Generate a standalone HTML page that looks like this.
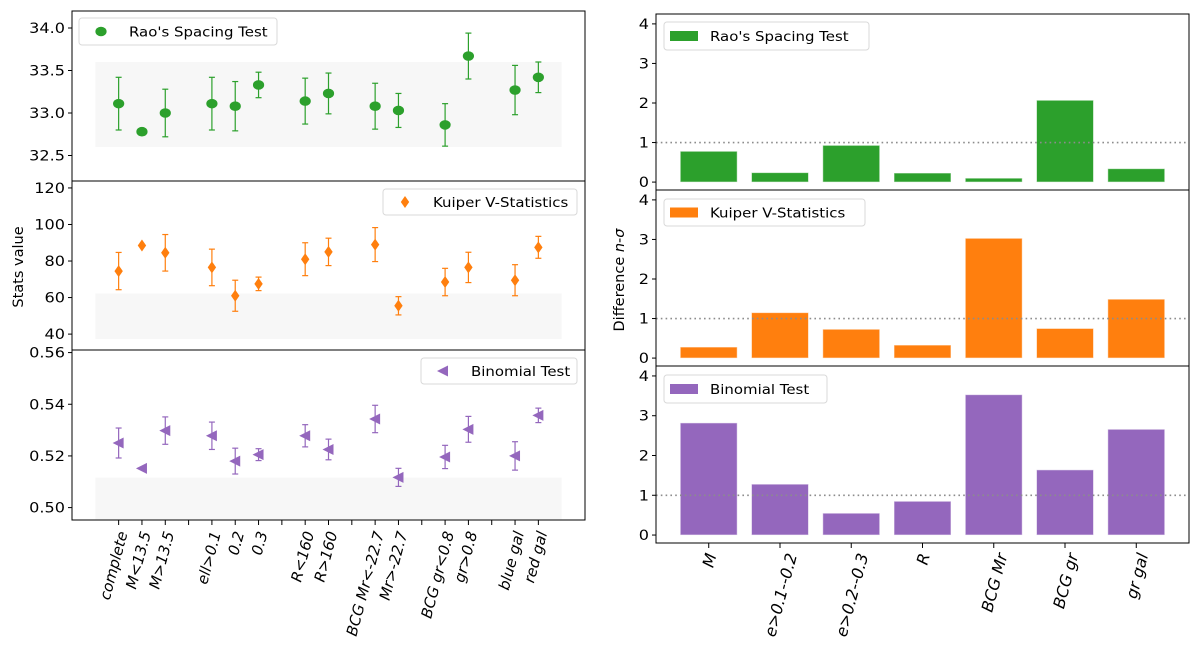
<!DOCTYPE html>
<html><head><meta charset="utf-8"><style>
html,body{margin:0;padding:0;background:#fff;}
svg{display:block;font-family:"DejaVu Sans","Liberation Sans",sans-serif;}
</style></head><body>
<svg id="fig" width="1200" height="652" viewBox="0 0 1200 652" xmlns="http://www.w3.org/2000/svg"></svg>
<script>
// ---- data ----
const slotLabels = ["complete","M<13.5","M>13.5","","ell>0.1","0.2","0.3","","R<160","R>160","","BCG Mr<-22.7","Mr>-22.7","","BCG gr<0.8","gr>0.8","","blue gal","red gal"];
const pointSlots = [0,1,2,4,5,6,8,9,11,12,14,15,17,18];
const raoValues = [33.11,32.78,33.00,33.11,33.08,33.33,33.14,33.23,33.08,33.03,32.86,33.67,33.27,33.42];
const raoErrors = [0.31,0,0.28,0.31,0.29,0.15,0.27,0.24,0.27,0.20,0.25,0.27,0.29,0.18];
const kuiperValues = [74.5,88.5,84.5,76.5,61,67.5,81,85,89,55.5,68.5,76.5,69.5,87.5];
const kuiperErrors = [10.2,0,10,10,8.5,3.7,9,7.5,9.3,5,7.5,8.3,8.5,6];
const binomValues = [0.525,0.5152,0.5298,0.5278,0.518,0.5205,0.5278,0.5225,0.5343,0.5117,0.5196,0.5303,0.520,0.5357];
const binomErrors = [0.0058,0,0.0053,0.0053,0.005,0.0023,0.0043,0.004,0.0053,0.0035,0.0045,0.005,0.0055,0.0028];
const raoBand = [32.6,33.6];
const kuiperBand = [37.3,62.2];
const binomBand = [0.4955,0.5116];
const raoTicks = [32.5,33.0,33.5,34.0];
const kuiperTicks = [40,60,80,100,120];
const binomTicks = [0.50,0.52,0.54,0.56];
const barCategories = ["M","e>0.1--0.2","e>0.2--0.3","R","BCG Mr","BCG gr","gr gal"];
const raoSigma = [0.78,0.24,0.93,0.23,0.10,2.07,0.34];
const kuiperSigma = [0.28,1.15,0.73,0.33,3.03,0.75,1.49];
const binomSigma = [2.82,1.28,0.55,0.85,3.53,1.64,2.66];
const sigmaTicks = [0,1,2,3,4];

const NS="http://www.w3.org/2000/svg";
const svg=document.getElementById('fig');
function el(tag,attrs,parent){const e=document.createElementNS(NS,tag);for(const k in attrs)e.setAttribute(k,attrs[k]);(parent||svg).appendChild(e);return e;}
function txt(x,y,s,anchor,size,parent){const t=el('text',{transform:`translate(${x},${y}) scale(1.15,1)`,'text-anchor':anchor,'font-size':size,fill:'#000'},parent);t.textContent=s;return t;}

const GREEN='#2ca02c',ORANGE='#ff7f0e',PURPLE='#9467bd';
const LX0=72,LX1=585,XMIN=-2,XMAX=20;
const lx=v=>LX0+(v-XMIN)/(XMAX-XMIN)*(LX1-LX0);
const leftPanels=[
 {name:'rao',top:11,bot:181,ymin:32.2,ymax:34.2,vals:raoValues,errs:raoErrors,band:raoBand,ticks:raoTicks,fmt:v=>v.toFixed(1),color:GREEN,marker:'circle',legend:'Rao\'s Spacing Test',lg:[79,18,198,27]},
 {name:'kuiper',top:181,bot:350,ymin:31.3,ymax:123.8,vals:kuiperValues,errs:kuiperErrors,band:kuiperBand,ticks:kuiperTicks,fmt:v=>String(v),color:ORANGE,marker:'diamond',legend:'Kuiper V-Statistics',lg:[383,189,194,26]},
 {name:'binomial',top:350,bot:520,ymin:0.4952,ymax:0.561,vals:binomValues,errs:binomErrors,band:binomBand,ticks:binomTicks,fmt:v=>v.toFixed(2),color:PURPLE,marker:'tri',legend:'Binomial Test',lg:[421,358,156,26]}
];
function drawMarker(type,x,y,color,g){
 let m;
 if(type==='circle') m=el('ellipse',{cx:x,cy:y,rx:5.6,ry:4.8,fill:color},g);
 else if(type==='diamond') m=el('polygon',{points:`${x},${y-6} ${x+4.2},${y} ${x},${y+6} ${x-4.2},${y}`,fill:color},g);
 else m=el('polygon',{points:`${x-6},${y} ${x+5},${y-5.5} ${x+5},${y+5.5}`,fill:color},g);
 return m;
}
leftPanels.forEach(p=>{
 const ly=v=>p.bot-(v-p.ymin)/(p.ymax-p.ymin)*(p.bot-p.top);
 const g=el('g',{});
 
 
 const band=el('rect',{x:lx(-1),y:ly(p.band[1]),width:lx(19)-lx(-1),height:ly(p.band[0])-ly(p.band[1]),fill:'#f7f7f7'},g);
 
 
 p.vals.forEach((v,i)=>{
  const x=lx(pointSlots[i]),e=p.errs[i];
  const pg=el('g',{},g);
  
  
  if(e>0){
   el('line',{x1:x,x2:x,y1:ly(v-e),y2:ly(v+e),stroke:p.color,'stroke-width':1.2},pg);
   el('line',{x1:x-3,x2:x+3,y1:ly(v-e),y2:ly(v-e),stroke:p.color,'stroke-width':1.2},pg);
   el('line',{x1:x-3,x2:x+3,y1:ly(v+e),y2:ly(v+e),stroke:p.color,'stroke-width':1.2},pg);
  }
  drawMarker(p.marker,x,ly(v),p.color,pg);
 });
 p.ticks.forEach(t=>{
  const y=ly(t);
  el('line',{x1:LX0-4,x2:LX0,y1:y,y2:y,stroke:'#000','stroke-width':1},g);
  const tl=txt(LX0-7,y+5,p.fmt(t),'end',14,g);
  
  
 });
 el('rect',{x:LX0,y:p.top,width:LX1-LX0,height:p.bot-p.top,fill:'none',stroke:'#000','stroke-width':1},g);
 const lgd=el('g',{},g);
 
 
 const [bx,by,bw,bh]=p.lg;
 el('rect',{x:bx,y:by,width:bw,height:bh,rx:3,fill:'#fff',stroke:'#d9d9d9','stroke-width':1},lgd);
 drawMarker(p.marker,bx+22,by+bh/2,p.color,lgd);
 txt(bx+50,by+bh/2+5,p.legend,'start',13,lgd);
});
slotLabels.forEach((s,i)=>{
 const x=lx(i);
 el('line',{x1:x,x2:x,y1:520,y2:525,stroke:'#000','stroke-width':1});
 if(s){
  const t=el('text',{transform:`translate(${x+9},533) rotate(-75)`,'text-anchor':'end','font-size':15,'font-style':'italic',fill:'#000'});
  t.textContent=s;
  
  
 }
});
const ylab=el('text',{transform:'translate(23,267) rotate(-90)','text-anchor':'middle','font-size':14.5,fill:'#000'});
ylab.textContent='Stats value';



const RX0=656,RX1=1189,BXMIN=-0.74,BXMAX=6.74;
const bx=v=>RX0+(v-BXMIN)/(BXMAX-BXMIN)*(RX1-RX0);
const rightPanels=[
 {name:'rao-sigma',top:14,bot:190,vals:raoSigma,color:GREEN,legend:'Rao\'s Spacing Test',lg:[664,22,205,28]},
 {name:'kuiper-sigma',top:190,bot:366,vals:kuiperSigma,color:ORANGE,legend:'Kuiper V-Statistics',lg:[664,199,201,27]},
 {name:'binomial-sigma',top:366,bot:543,vals:binomSigma,color:PURPLE,legend:'Binomial Test',lg:[664,375,163,28]}
];
const YMIN=-0.2,YMAX=4.25;
rightPanels.forEach(p=>{
 const by_=v=>p.bot-(v-YMIN)/(YMAX-YMIN)*(p.bot-p.top);
 const g=el('g',{});
 
 
 p.vals.forEach((v,i)=>{
  const r=el('rect',{x:bx(i-0.4),y:by_(v),width:bx(i+0.4)-bx(i-0.4),height:by_(0)-by_(v),fill:p.color,stroke:'rgba(255,255,255,0.6)','stroke-width':1},g);
  
  
 });
 const dl=el('line',{x1:RX0,x2:RX1,y1:by_(1),y2:by_(1),stroke:'#8c8c8c','stroke-width':1.6,'stroke-dasharray':'1.6,3.2'},g);
 
 
 sigmaTicks.forEach(t=>{
  const y=by_(t);
  el('line',{x1:RX0-4,x2:RX0,y1:y,y2:y,stroke:'#000','stroke-width':1},g);
  const tl=txt(RX0-7,y+5,String(t),'end',14,g);
  
  
 });
 el('rect',{x:RX0,y:p.top,width:RX1-RX0,height:p.bot-p.top,fill:'none',stroke:'#000','stroke-width':1},g);
 const lgd=el('g',{},g);
 
 
 const [lx_,ly_,lw,lh]=p.lg;
 el('rect',{x:lx_,y:ly_,width:lw,height:lh,rx:3,fill:'#fff',stroke:'#d9d9d9','stroke-width':1},lgd);
 el('rect',{x:lx_+6,y:ly_+lh/2-5,width:28,height:10,fill:p.color},lgd);
 txt(lx_+46,ly_+lh/2+5,p.legend,'start',13,lgd);
});
barCategories.forEach((s,i)=>{
 const x=bx(i);
 el('line',{x1:x,x2:x,y1:543,y2:548,stroke:'#000','stroke-width':1});
 const t=el('text',{'text-anchor':'end','font-size':16,'font-style':'italic',fill:'#000'});
 t.textContent=s;
 
 
 const L=t.getComputedTextLength();
 t.setAttribute('transform',`translate(${x+L*0.13+6},555) rotate(-75)`);
});
const ylab2=el('text',{transform:'translate(624,280) rotate(-90)','text-anchor':'middle','font-size':14.5,fill:'#000'});
ylab2.innerHTML='Difference <tspan font-style="italic">n</tspan>-<tspan font-style="italic">σ</tspan>';


</script>
</body></html>
